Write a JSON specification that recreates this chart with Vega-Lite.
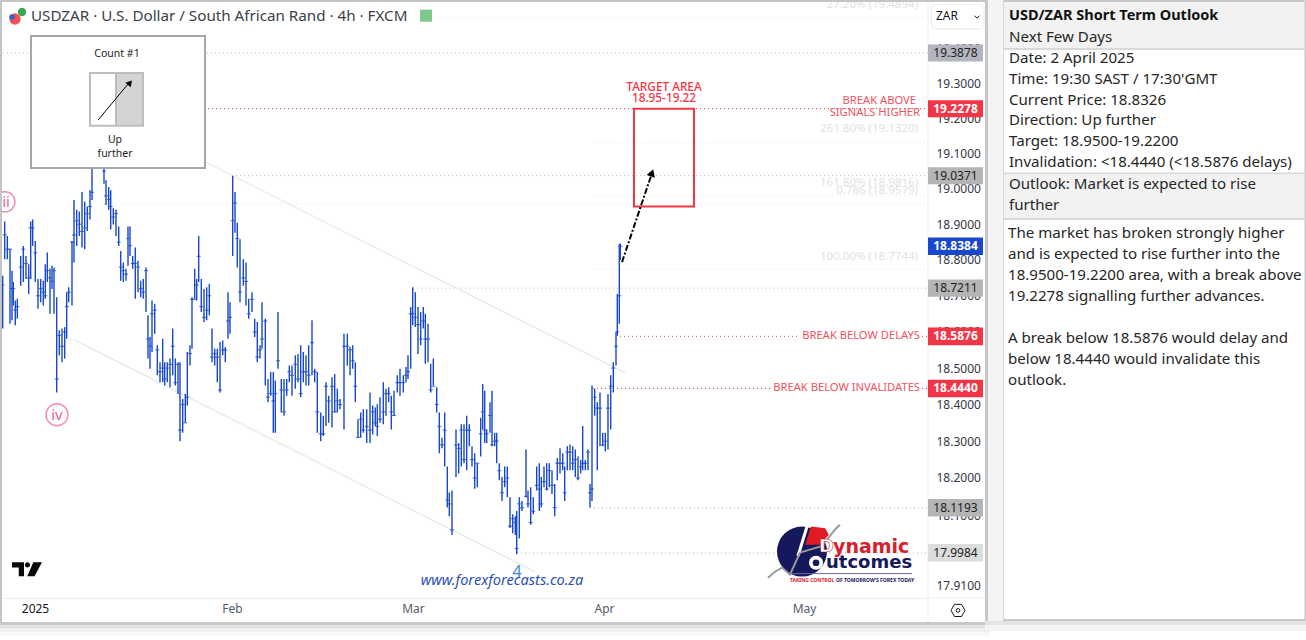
{"$schema":"https://vega.github.io/schema/vega-lite/v6.json","padding":0,"background":"white","spacing":57,"bounds":"flush","config":{"view":{"stroke":null},"text":{"font":"Noto Sans"},"axis":{"labelFont":"Noto Sans"}},
"datasets":{
"bars":[
{"b":2.7,"p":18.756,"p2":18.609,"c":18.73},{"b":4.7,"p":18.908,"p2":18.802,"c":18.87},{"b":7.3,"p":18.867,"p2":18.802,"c":18.83},{"b":10,"p":18.83,"p2":18.622,"c":18.83},{"b":12,"p":18.77,"p2":18.632,"c":18.72},{"b":13.3,"p":18.738,"p2":18.673,"c":18.72},{"b":15.3,"p":18.687,"p2":18.618,"c":18.66},{"b":17.3,"p":18.692,"p2":18.636,"c":18.67},{"b":20.7,"p":18.811,"p2":18.728,"c":18.78},{"b":23.3,"p":18.839,"p2":18.738,"c":18.83},{"b":26,"p":18.811,"p2":18.747,"c":18.79},{"b":28.7,"p":18.788,"p2":18.705,"c":18.75},{"b":30.7,"p":18.908,"p2":18.747,"c":18.89},{"b":32.7,"p":18.913,"p2":18.839,"c":18.89},{"b":35.3,"p":18.853,"p2":18.738,"c":18.82},{"b":38,"p":18.747,"p2":18.664,"c":18.70},{"b":40.7,"p":18.747,"p2":18.682,"c":18.72},{"b":43.3,"p":18.742,"p2":18.673,"c":18.71},{"b":45.3,"p":18.788,"p2":18.692,"c":18.70},{"b":47.3,"p":18.821,"p2":18.738,"c":18.77},{"b":50,"p":18.775,"p2":18.65,"c":18.75},{"b":52,"p":18.784,"p2":18.719,"c":18.74},{"b":54,"p":18.779,"p2":18.65,"c":18.77},{"b":56.7,"p":18.696,"p2":18.433,"c":18.47},{"b":59.3,"p":18.604,"p2":18.535,"c":18.59},{"b":62,"p":18.609,"p2":18.516,"c":18.56},{"b":64.7,"p":18.613,"p2":18.526,"c":18.60},{"b":66.7,"p":18.71,"p2":18.581,"c":18.67},{"b":68.7,"p":18.724,"p2":18.682,"c":18.71},{"b":72,"p":18.853,"p2":18.673,"c":18.85},{"b":74,"p":18.968,"p2":18.793,"c":18.87},{"b":76.7,"p":18.941,"p2":18.839,"c":18.91},{"b":79.3,"p":18.936,"p2":18.867,"c":18.90},{"b":82,"p":18.991,"p2":18.835,"c":18.88},{"b":84.7,"p":18.964,"p2":18.83,"c":18.89},{"b":87.3,"p":18.95,"p2":18.881,"c":18.93},{"b":90,"p":18.996,"p2":18.913,"c":18.95},{"b":92,"p":19.09,"p2":18.968,"c":18.99},{"b":95,"p":19.11,"p2":19.06,"c":19.08},{"b":98,"p":19.13,"p2":19.07,"c":19.1},{"b":104,"p":19.1,"p2":19.014,"c":19.05},{"b":106,"p":19.024,"p2":18.954,"c":18.98},{"b":108.7,"p":19.005,"p2":18.941,"c":18.97},{"b":110.7,"p":18.996,"p2":18.885,"c":18.95},{"b":113.3,"p":18.945,"p2":18.899,"c":18.92},{"b":116,"p":18.941,"p2":18.867,"c":18.93},{"b":118.7,"p":18.894,"p2":18.839,"c":18.85},{"b":120.7,"p":18.825,"p2":18.742,"c":18.78},{"b":123.3,"p":18.793,"p2":18.738,"c":18.77},{"b":126,"p":18.775,"p2":18.742,"c":18.76},{"b":128,"p":18.894,"p2":18.784,"c":18.86},{"b":130,"p":18.894,"p2":18.811,"c":18.84},{"b":132.7,"p":18.811,"p2":18.775,"c":18.79},{"b":135.3,"p":18.835,"p2":18.692,"c":18.79},{"b":138,"p":18.798,"p2":18.71,"c":18.78},{"b":140.7,"p":18.742,"p2":18.696,"c":18.72},{"b":143.3,"p":18.747,"p2":18.692,"c":18.71},{"b":146,"p":18.779,"p2":18.655,"c":18.77},{"b":148,"p":18.646,"p2":18.526,"c":18.58},{"b":150,"p":18.586,"p2":18.498,"c":18.56},{"b":152,"p":18.687,"p2":18.544,"c":18.65},{"b":154.7,"p":18.678,"p2":18.595,"c":18.66},{"b":157.3,"p":18.563,"p2":18.48,"c":18.55},{"b":160,"p":18.516,"p2":18.461,"c":18.49},{"b":162.7,"p":18.581,"p2":18.461,"c":18.50},{"b":164.7,"p":18.516,"p2":18.452,"c":18.47},{"b":167.3,"p":18.516,"p2":18.461,"c":18.50},{"b":170,"p":18.526,"p2":18.447,"c":18.51},{"b":172.7,"p":18.609,"p2":18.48,"c":18.56},{"b":175.3,"p":18.526,"p2":18.452,"c":18.46},{"b":178,"p":18.516,"p2":18.429,"c":18.51},{"b":180,"p":18.516,"p2":18.3,"c":18.33},{"b":182.7,"p":18.415,"p2":18.323,"c":18.40},{"b":185.3,"p":18.429,"p2":18.351,"c":18.35},{"b":187.3,"p":18.544,"p2":18.397,"c":18.42},{"b":190,"p":18.563,"p2":18.507,"c":18.54},{"b":192,"p":18.696,"p2":18.553,"c":18.69},{"b":194.7,"p":18.775,"p2":18.692,"c":18.69},{"b":196.7,"p":18.747,"p2":18.687,"c":18.73},{"b":198.7,"p":18.867,"p2":18.738,"c":18.81},{"b":201.3,"p":18.747,"p2":18.655,"c":18.67},{"b":204,"p":18.719,"p2":18.627,"c":18.64},{"b":206.7,"p":18.724,"p2":18.632,"c":18.66},{"b":209.3,"p":18.733,"p2":18.646,"c":18.70},{"b":212,"p":18.609,"p2":18.516,"c":18.53},{"b":214.7,"p":18.553,"p2":18.507,"c":18.54},{"b":217.3,"p":18.553,"p2":18.461,"c":18.53},{"b":220,"p":18.572,"p2":18.433,"c":18.44},{"b":222.7,"p":18.576,"p2":18.535,"c":18.55},{"b":225.3,"p":18.558,"p2":18.516,"c":18.55},{"b":228,"p":18.71,"p2":18.581,"c":18.63},{"b":230,"p":18.682,"p2":18.595,"c":18.64},{"b":232.7,"p":19.037,"p2":18.811,"c":18.91},{"b":235,"p":18.991,"p2":18.876,"c":18.96},{"b":237.3,"p":18.904,"p2":18.779,"c":18.86},{"b":240,"p":18.858,"p2":18.682,"c":18.71},{"b":243.3,"p":18.802,"p2":18.728,"c":18.75},{"b":246,"p":18.793,"p2":18.673,"c":18.74},{"b":248.7,"p":18.692,"p2":18.636,"c":18.65},{"b":252,"p":18.71,"p2":18.655,"c":18.69},{"b":254.7,"p":18.636,"p2":18.586,"c":18.60},{"b":257.3,"p":18.627,"p2":18.516,"c":18.53},{"b":260,"p":18.563,"p2":18.526,"c":18.55},{"b":262,"p":18.682,"p2":18.553,"c":18.58},{"b":265.3,"p":18.636,"p2":18.452,"c":18.63},{"b":268,"p":18.47,"p2":18.406,"c":18.42},{"b":270.7,"p":18.489,"p2":18.424,"c":18.43},{"b":273.3,"p":18.489,"p2":18.323,"c":18.41},{"b":275.3,"p":18.466,"p2":18.323,"c":18.43},{"b":278,"p":18.655,"p2":18.498,"c":18.52},{"b":281.3,"p":18.47,"p2":18.378,"c":18.44},{"b":284,"p":18.47,"p2":18.369,"c":18.38},{"b":286.7,"p":18.47,"p2":18.424,"c":18.44},{"b":289.3,"p":18.507,"p2":18.461,"c":18.49},{"b":292,"p":18.507,"p2":18.424,"c":18.48},{"b":295.3,"p":18.535,"p2":18.443,"c":18.51},{"b":298,"p":18.539,"p2":18.461,"c":18.47},{"b":300.7,"p":18.563,"p2":18.42,"c":18.43},{"b":303.3,"p":18.544,"p2":18.461,"c":18.49},{"b":306,"p":18.535,"p2":18.452,"c":18.49},{"b":308.7,"p":18.563,"p2":18.452,"c":18.48},{"b":312,"p":18.632,"p2":18.48,"c":18.57},{"b":314.7,"p":18.498,"p2":18.461,"c":18.49},{"b":317.3,"p":18.489,"p2":18.323,"c":18.38},
{"b":320.7,"p":18.378,"p2":18.3,"c":18.32},{"b":323.3,"p":18.369,"p2":18.314,"c":18.32},{"b":326,"p":18.461,"p2":18.341,"c":18.45},{"b":328.7,"p":18.424,"p2":18.35,"c":18.41},{"b":332,"p":18.475,"p2":18.337,"c":18.45},{"b":334.7,"p":18.484,"p2":18.378,"c":18.38},{"b":337.3,"p":18.443,"p2":18.378,"c":18.41},{"b":340,"p":18.415,"p2":18.387,"c":18.40},{"b":344,"p":18.595,"p2":18.332,"c":18.56},{"b":347.3,"p":18.595,"p2":18.507,"c":18.56},{"b":350,"p":18.558,"p2":18.48,"c":18.55},{"b":352.7,"p":18.563,"p2":18.498,"c":18.52},{"b":355.3,"p":18.516,"p2":18.406,"c":18.45},{"b":358,"p":18.36,"p2":18.309,"c":18.31},{"b":360.7,"p":18.378,"p2":18.309,"c":18.36},{"b":363.3,"p":18.387,"p2":18.323,"c":18.33},{"b":366.7,"p":18.387,"p2":18.295,"c":18.34},{"b":370,"p":18.433,"p2":18.295,"c":18.33},{"b":372.7,"p":18.397,"p2":18.318,"c":18.38},{"b":375.3,"p":18.392,"p2":18.341,"c":18.35},{"b":377.3,"p":18.401,"p2":18.314,"c":18.34},{"b":380,"p":18.42,"p2":18.35,"c":18.36},{"b":383.3,"p":18.461,"p2":18.346,"c":18.38},{"b":386,"p":18.443,"p2":18.369,"c":18.43},{"b":388.7,"p":18.447,"p2":18.406,"c":18.43},{"b":391.3,"p":18.424,"p2":18.332,"c":18.38},{"b":394,"p":18.438,"p2":18.369,"c":18.37},{"b":397.3,"p":18.48,"p2":18.433,"c":18.46},{"b":400,"p":18.498,"p2":18.424,"c":18.46},{"b":403.3,"p":18.48,"p2":18.433,"c":18.46},{"b":406,"p":18.503,"p2":18.461,"c":18.48},{"b":408,"p":18.535,"p2":18.47,"c":18.49},{"b":410.7,"p":18.669,"p2":18.498,"c":18.65},{"b":412.7,"p":18.724,"p2":18.618,"c":18.65},{"b":415.3,"p":18.71,"p2":18.613,"c":18.64},{"b":418,"p":18.669,"p2":18.539,"c":18.62},{"b":420.7,"p":18.655,"p2":18.563,"c":18.58},{"b":423.3,"p":18.669,"p2":18.609,"c":18.63},{"b":425.3,"p":18.65,"p2":18.512,"c":18.58},{"b":428,"p":18.622,"p2":18.516,"c":18.58},{"b":430.7,"p":18.512,"p2":18.433,"c":18.44},{"b":433.3,"p":18.526,"p2":18.452,"c":18.45},{"b":436.7,"p":18.447,"p2":18.378,"c":18.40},{"b":439.3,"p":18.378,"p2":18.267,"c":18.34},{"b":442,"p":18.309,"p2":18.281,"c":18.29},{"b":444.7,"p":18.378,"p2":18.231,"c":18.33},{"b":447.3,"p":18.231,"p2":18.12,"c":18.14},{"b":449.3,"p":18.161,"p2":18.097,"c":18.13},{"b":452,"p":18.166,"p2":18.046,"c":18.06},{"b":456,"p":18.332,"p2":18.203,"c":18.29},{"b":458.7,"p":18.295,"p2":18.212,"c":18.28},{"b":461.3,"p":18.346,"p2":18.231,"c":18.33},{"b":464,"p":18.346,"p2":18.24,"c":18.25},{"b":466.7,"p":18.369,"p2":18.221,"c":18.33},{"b":469.3,"p":18.346,"p2":18.286,"c":18.33},{"b":472,"p":18.286,"p2":18.231,"c":18.25},{"b":474.7,"p":18.267,"p2":18.171,"c":18.20},{"b":477.3,"p":18.24,"p2":18.175,"c":18.24},{"b":480.7,"p":18.364,"p2":18.258,"c":18.32},{"b":482.7,"p":18.456,"p2":18.332,"c":18.38},{"b":484.7,"p":18.438,"p2":18.295,"c":18.33},{"b":486.7,"p":18.332,"p2":18.295,"c":18.32},{"b":490,"p":18.406,"p2":18.323,"c":18.37},{"b":492,"p":18.438,"p2":18.286,"c":18.29},{"b":494.7,"p":18.323,"p2":18.286,"c":18.30},{"b":496.7,"p":18.323,"p2":18.24,"c":18.30},{"b":499.3,"p":18.24,"p2":18.194,"c":18.22},{"b":502,"p":18.203,"p2":18.138,"c":18.16},{"b":504.7,"p":18.231,"p2":18.175,"c":18.19},{"b":507.3,"p":18.231,"p2":18.148,"c":18.20},{"b":510,"p":18.148,"p2":18.065,"c":18.07},{"b":512.7,"p":18.102,"p2":18.051,"c":18.09},{"b":515.3,"p":18.097,"p2":18.046,"c":18.08},{"b":516.7,"p":18.111,"p2":17.995,"c":18.01},{"b":519.3,"p":18.148,"p2":18.037,"c":18.13},{"b":522,"p":18.138,"p2":18.111,"c":18.12},{"b":526,"p":18.277,"p2":18.148,"c":18.15},{"b":528,"p":18.166,"p2":18.12,"c":18.13},{"b":530.7,"p":18.175,"p2":18.074,"c":18.08},{"b":533.3,"p":18.148,"p2":18.102,"c":18.11},{"b":536.7,"p":18.231,"p2":18.166,"c":18.18},{"b":539.3,"p":18.24,"p2":18.111,"c":18.17},{"b":541.3,"p":18.203,"p2":18.12,"c":18.13},{"b":544,"p":18.231,"p2":18.175,"c":18.19},{"b":546.7,"p":18.24,"p2":18.166,"c":18.17},{"b":549.3,"p":18.24,"p2":18.175,"c":18.22},{"b":552,"p":18.221,"p2":18.157,"c":18.18},{"b":554.7,"p":18.184,"p2":18.097,"c":18.12},{"b":557.3,"p":18.254,"p2":18.194,"c":18.24},{"b":560,"p":18.281,"p2":18.212,"c":18.24},{"b":562.7,"p":18.267,"p2":18.221,"c":18.24},{"b":564.7,"p":18.231,"p2":18.138,"c":18.16},{"b":567.3,"p":18.286,"p2":18.221,"c":18.27},{"b":570,"p":18.291,"p2":18.221,"c":18.27},{"b":572.7,"p":18.286,"p2":18.221,"c":18.24},{"b":575.3,"p":18.277,"p2":18.203,"c":18.25},{"b":578,"p":18.258,"p2":18.194,"c":18.20},{"b":580.7,"p":18.249,"p2":18.212,"c":18.23},{"b":582.7,"p":18.341,"p2":18.221,"c":18.24},{"b":585.3,"p":18.249,"p2":18.221,"c":18.24},{"b":588,"p":18.277,"p2":18.221,"c":18.27},{"b":590,"p":18.184,"p2":18.12,"c":18.16},{"b":592,"p":18.452,"p2":18.138,"c":18.17},{"b":594.7,"p":18.443,"p2":18.369,"c":18.42},{"b":597.3,"p":18.406,"p2":18.221,"c":18.39},{"b":600,"p":18.433,"p2":18.286,"c":18.39},{"b":602.7,"p":18.323,"p2":18.286,"c":18.29},{"b":605.3,"p":18.323,"p2":18.272,"c":18.30},{"b":608,"p":18.429,"p2":18.277,"c":18.39},{"b":610.7,"p":18.48,"p2":18.332,"c":18.45},{"b":613.3,"p":18.516,"p2":18.433,"c":18.50},{"b":616,"p":18.599,"p2":18.507,"c":18.56},{"b":617.3,"p":18.705,"p2":18.589,"c":18.60},{"b":619.3,"p":18.845,"p2":18.622,"c":18.70},{"b":620.3,"p":18.845,"p2":18.80,"c":18.838}
],
"levels":[{"b":3,"b2":928,"p":19.3878},{"b":232,"b2":928,"p":19.0371},{"b":413,"b2":928,"p":18.7211},{"b":590,"b2":928,"p":18.1193},{"b":517,"b2":928,"p":17.9984}],
"redLevels":[{"b":100,"b2":928,"p":19.2278},{"b":620,"b2":800,"p":18.5876},{"b":922,"b2":928,"p":18.5876},{"b":593,"b2":772,"p":18.444},{"b":922,"b2":928,"p":18.444}],
"fibs":[{"b":430,"b2":928,"p":19.4894},{"b":592,"b2":928,"p":19.132},{"b":592,"b2":928,"p":18.9816},{"b":100,"b2":928,"p":18.9579},{"b":592,"b2":928,"p":18.7744}],
"fibText":[{"b":918,"p":19.527,"t":"27.20% (19.4894)"},{"b":918,"p":19.17,"t":"261.80% (19.1320)"},{"b":918,"p":19.016,"t":"161.80% (18.9816)"},{"b":918,"p":18.994,"t":"0.786 (18.9579)"},{"b":918,"p":18.808,"t":"100.00% (18.7744)"}],
"channels":[{"b":205,"b2":625,"p":19.076,"p2":18.487},{"b":74,"b2":535,"p":18.578,"p2":17.948}],
"chips":[{"b":928,"b2":983,"p":19.412,"p2":19.363,"kind":"pivot","t":"19.3878","m":19.3878},{"b":928,"b2":983,"p":19.252,"p2":19.203,"kind":"alert","t":"19.2278","m":19.2278},{"b":928,"b2":983,"p":19.061,"p2":19.013,"kind":"level","t":"19.0371","m":19.0371},{"b":928,"b2":983,"p":18.863,"p2":18.814,"kind":"last","t":"18.8384","m":18.8384},{"b":928,"b2":983,"p":18.745,"p2":18.697,"kind":"level","t":"18.7211","m":18.7211},{"b":928,"b2":983,"p":18.612,"p2":18.563,"kind":"alert","t":"18.5876","m":18.5876},{"b":928,"b2":983,"p":18.468,"p2":18.42,"kind":"alert","t":"18.4440","m":18.444},{"b":928,"b2":983,"p":18.143,"p2":18.096,"kind":"level","t":"18.1193","m":18.1193},{"b":928,"b2":983,"p":18.022,"p2":17.975,"kind":"weak","t":"17.9984","m":17.9984}],
"frame":[{"b":0,"b2":2,"p":19.541,"p2":17.814,"part":"edge"},{"b":0,"b2":985,"p":19.541,"p2":19.535,"part":"edge"},{"b":0,"b2":990,"p":17.814,"p2":17.806,"part":"s1"},{"b":0,"b2":990,"p":17.806,"p2":17.798,"part":"s2"},{"b":0,"b2":990,"p":17.798,"p2":17.788,"part":"s3"},{"b":0,"b2":990,"p":17.788,"p2":17.777,"part":"s4"}],
"seps":[{"b":928,"b2":928,"p":19.53,"p2":17.814},{"b":928,"b2":985,"p":17.878,"p2":17.878}]
},
"hconcat":[
{"width":928,"height":598,
"encoding":{"x":{"field":"b","type":"quantitative","scale":{"domain":[0,928],"nice":false,"zero":false},"title":null,"axis":{"orient":"bottom","values":[35,232,413,604,804],"labelExpr":"datum.value==35?'2025':datum.value==232?'Feb':datum.value==413?'Mar':datum.value==604?'Apr':'May'","labelColor":{"condition":{"test":"datum.value==35","value":"#131722"},"value":"#555b6a"},"labelFontSize":12,"labelPadding":5,"ticks":false,"grid":false,"domainColor":"#eceef2","labelOverlap":false,"labelBound":false,"labelFlush":false}},
"y":{"field":"p","type":"quantitative","scale":{"type":"log","domain":[17.878,19.541],"nice":false,"zero":false},"title":null,"axis":{"orient":"right","values":[19.4,19.3,19.2,19.1,19.0,18.9,18.8,18.7,18.6,18.5,18.4,18.3,18.2,18.1,18.0,17.91],"format":".4f","labelColor":"#333844","labelFontSize":12,"labelPadding":8,"ticks":false,"domain":false,"grid":false,"labelOverlap":false,"labelBound":false,"labelFlush":false}}},
"layer":[
{"data":{"name":"seps"},"mark":{"type":"rule","color":"#eceef2","strokeWidth":1},"encoding":{"x2":{"field":"b2"},"y2":{"field":"p2"}}},
{"data":{"name":"fibs"},"mark":{"type":"rule","color":"#e4e5e9","strokeWidth":1,"strokeDash":[1,3]},"encoding":{"x2":{"field":"b2"}}},
{"data":{"name":"levels"},"mark":{"type":"rule","color":"#b5b7bd","strokeWidth":1,"strokeDash":[1,3]},"encoding":{"x2":{"field":"b2"}}},
{"data":{"name":"redLevels"},"mark":{"type":"rule","color":"#f23645","strokeWidth":1,"strokeDash":[1,3]},"encoding":{"x2":{"field":"b2"}}},
{"data":{"name":"channels"},"mark":{"type":"rule","color":"#ebebeb","strokeWidth":1.5},"encoding":{"x2":{"field":"b2"},"y2":{"field":"p2"}}},
{"data":{"name":"fibText"},"mark":{"type":"text","align":"right","baseline":"middle","fontSize":11.5,"color":"#dfe1e6","clip":true},"encoding":{"text":{"field":"t"}}},
{"data":{"name":"bars"},"mark":{"type":"rule","color":"#1848cc","strokeWidth":1.4},"encoding":{"y2":{"field":"p2"}}},
{"data":{"name":"bars"},"mark":{"type":"tick","orient":"horizontal","color":"#1848cc","size":4,"thickness":1.2},"encoding":{"y":{"field":"c","type":"quantitative","scale":{"type":"log","domain":[17.878,19.541],"nice":false,"zero":false}}}},
{"data":{"values":[{"b":634,"b2":694,"p":19.2278,"p2":18.95}]},"mark":{"type":"rect","fill":"#ffffff","fillOpacity":0,"stroke":"#f23645","strokeWidth":2},"encoding":{"x2":{"field":"b2"},"y2":{"field":"p2"}}},
{"data":{"values":[{"b":622,"b2":651,"p":18.794,"p2":19.036}]},"mark":{"type":"rule","color":"#000000","strokeWidth":2,"strokeDash":[6,2,2,2]},"encoding":{"x2":{"field":"b2"},"y2":{"field":"p2"}}},
{"data":{"values":[{"b":652,"p":19.045}]},"mark":{"type":"point","shape":"triangle-up","filled":true,"color":"#000000","size":75,"angle":19,"opacity":1}},
{"data":{"values":[{"b":664,"p":19.29,"t":"TARGET AREA"},{"b":664,"p":19.258,"t":"18.95-19.22"}]},"mark":{"type":"text","align":"center","baseline":"middle","fontSize":11.8,"color":"#f23645","fontWeight":500},"encoding":{"text":{"field":"t"}}},
{"data":{"values":[{"b":916,"p":19.25,"t":"BREAK ABOVE"},{"b":920,"p":19.215,"t":"SIGNALS HIGHER"},{"b":920,"p":18.5876,"t":"BREAK BELOW DELAYS"},{"b":920,"p":18.444,"t":"BREAK BELOW INVALIDATES"}]},"mark":{"type":"text","align":"right","baseline":"middle","fontSize":11.2,"color":"#f0525e"},"encoding":{"text":{"field":"t"}}},
{"data":{"values":[{"b":57,"p":18.372,"t":"iv"}]},"mark":{"type":"point","shape":"circle","filled":false,"color":"#f48fb1","strokeWidth":1.5,"size":480,"opacity":1}},
{"data":{"values":[{"b":5,"p":18.963,"t":"ii"}]},"mark":{"type":"point","shape":"circle","filled":false,"color":"#f48fb1","strokeWidth":1.5,"size":400,"opacity":1,"clip":true}},
{"data":{"values":[{"b":57,"p":18.372,"t":"iv"},{"b":6,"p":18.963,"t":"ii"}]},"mark":{"type":"text","align":"center","baseline":"middle","fontSize":15,"color":"#f06292"},"encoding":{"text":{"field":"t"}}},
{"data":{"values":[{"b":517,"p":17.948,"t":"4"}]},"mark":{"type":"text","align":"center","baseline":"middle","fontSize":16,"color":"#3f86d6"},"encoding":{"text":{"field":"t"}}},
{"data":{"values":[{"b":502,"p":17.922,"t":"www.forexforecasts.co.za"}]},"mark":{"type":"text","align":"center","baseline":"middle","fontSize":14.6,"fontStyle":"italic","color":"#2b50b5"},"encoding":{"text":{"field":"t"}}},
{"data":{"values":[{"b":27,"p":17.955}]},"mark":{"type":"point","shape":"M-1,-.45L-.2,-.45L-.2,.47L-.55,.47L-.55,-.1L-1,-.1ZM.42,-.45L1,-.45L.5,.47L.02,.47ZM.2,-.28A.17,.17 0 1 1 -.14,-.28A.17,.17 0 1 1 .2,-.28Z","filled":true,"color":"#0a0a0a","size":900,"opacity":1}},
{"data":{"values":[{"b":31,"b2":205,"p":19.437,"p2":19.059}]},"mark":{"type":"rect","fill":"#ffffff","stroke":"#a6a6a6","strokeWidth":2},"encoding":{"x2":{"field":"b2"},"y2":{"field":"p2"}}},
{"data":{"values":[{"b":116,"b2":143,"p":19.33,"p2":19.179}]},"mark":{"type":"rect","fill":"#d4d4d4"},"encoding":{"x2":{"field":"b2"},"y2":{"field":"p2"}}},
{"data":{"values":[{"b":90,"b2":143,"p":19.33,"p2":19.179}]},"mark":{"type":"rect","fill":"#ffffff","fillOpacity":0,"stroke":"#bdbdbd","strokeWidth":2},"encoding":{"x2":{"field":"b2"},"y2":{"field":"p2"}}},
{"data":{"values":[{"b":116,"b2":116,"p":19.33,"p2":19.179}]},"mark":{"type":"rule","color":"#bdbdbd","strokeWidth":2},"encoding":{"x2":{"field":"b2"},"y2":{"field":"p2"}}},
{"data":{"values":[{"b":98,"b2":130,"p":19.195,"p2":19.305}]},"mark":{"type":"rule","color":"#000000","strokeWidth":1},"encoding":{"x2":{"field":"b2"},"y2":{"field":"p2"}}},
{"data":{"values":[{"b":130,"p":19.302}]},"mark":{"type":"point","shape":"triangle-up","filled":true,"color":"#000000","size":50,"angle":40,"opacity":1}},
{"data":{"values":[{"b":117,"p":19.385,"t":"Count #1"},{"b":115,"p":19.139,"t":"Up"},{"b":115,"p":19.099,"t":"further"}]},"mark":{"type":"text","align":"center","baseline":"middle","fontSize":10.5,"color":"#222222"},"encoding":{"text":{"field":"t"}}},
{"data":{"values":[{"b":420,"b2":432,"p":19.513,"p2":19.478}]},"mark":{"type":"rect","fill":"#7cc98a"},"encoding":{"x2":{"field":"b2"},"y2":{"field":"p2"}}},
{"data":{"values":[{"b":22,"p":19.506}]},"mark":{"type":"point","shape":"circle","filled":true,"color":"#3aa655","size":70,"opacity":1}},
{"data":{"values":[{"b":15,"p":19.486}]},"mark":{"type":"point","shape":"circle","filled":true,"color":"#ef5350","size":130,"opacity":1}},
{"data":{"values":[{"b":12,"p":19.492}]},"mark":{"type":"point","shape":"circle","filled":true,"color":"#3a5fcd","size":30,"opacity":1}},
{"data":{"values":[{"b":31,"p":19.495,"t":"USDZAR · U.S. Dollar / South African Rand · 4h · FXCM"}]},"mark":{"type":"text","align":"left","baseline":"middle","fontSize":15.2,"color":"#3a3f4a"},"encoding":{"text":{"field":"t"}}},
{"data":{"values":[{"b":931.5,"b2":984,"p":19.527,"p2":19.457}]},"mark":{"type":"rect","fill":"#ffffff","stroke":"#e6e8ee","strokeWidth":1,"cornerRadius":4},"encoding":{"x2":{"field":"b2"},"y2":{"field":"p2"}}},
{"data":{"values":[{"b":936,"p":19.495,"t":"ZAR"}]},"mark":{"type":"text","align":"left","baseline":"middle","fontSize":12,"color":"#131722"},"encoding":{"text":{"field":"t"}}},
{"data":{"values":[{"b":977,"p":19.492}]},"mark":{"type":"point","shape":"M-1,-.5L0,.5L1,-.5","filled":false,"color":"#131722","strokeWidth":1,"size":25,"opacity":1}},
{"data":{"name":"chips"},"mark":{"type":"rect"},"encoding":{"x2":{"field":"b2"},"y2":{"field":"p2"},"color":{"field":"kind","type":"nominal","legend":null,"scale":{"domain":["pivot","alert","level","last","weak"],"range":["#b2b5be","#f23645","#b5b5b5","#1848cc","#dcdcdc"]}}}},
{"data":{"name":"chips"},"transform":[{"filter":"datum.kind=='alert'||datum.kind=='last'"}],"mark":{"type":"text","align":"center","baseline":"middle","fontSize":12,"fontWeight":"bold","color":"#ffffff"},"encoding":{"x":{"datum":955.5,"type":"quantitative","scale":{"domain":[0,928],"nice":false,"zero":false}},"y":{"field":"m","type":"quantitative","scale":{"type":"log","domain":[17.878,19.541],"nice":false,"zero":false}},"text":{"field":"t"}}},
{"data":{"name":"chips"},"transform":[{"filter":"datum.kind!='alert'&&datum.kind!='last'"}],"mark":{"type":"text","align":"center","baseline":"middle","fontSize":12,"color":"#222222"},"encoding":{"x":{"datum":955.5,"type":"quantitative","scale":{"domain":[0,928],"nice":false,"zero":false}},"y":{"field":"m","type":"quantitative","scale":{"type":"log","domain":[17.878,19.541],"nice":false,"zero":false}},"text":{"field":"t"}}},
{"data":{"values":[{"b":958,"p":17.845}]},"mark":{"type":"point","shape":"M-1,0L-.5,-.87L.5,-.87L1,0L.5,.87L-.5,.87Z","filled":false,"color":"#131722","strokeWidth":1,"size":196,"opacity":1}},
{"data":{"values":[{"b":958,"p":17.845}]},"mark":{"type":"point","shape":"circle","filled":false,"color":"#131722","strokeWidth":1,"size":14,"opacity":1}},
{"data":{"values":[{"b":802,"p":18.002}]},"mark":{"type":"point","shape":"circle","filled":true,"color":"#15185c","size":2500,"opacity":1}},
{"data":{"values":[{"b":802,"p":18.002}]},"mark":{"type":"point","shape":"M.36,-1L.93,-.93L1.07,-.67L.73,-.27L.13,-.27Z","filled":true,"color":"#e01b24","size":2500,"opacity":1}},
{"data":{"values":[{"b":808,"b2":798,"p":18.078,"p2":17.99}]},"mark":{"type":"rule","color":"#ffffff","strokeWidth":3},"encoding":{"x2":{"field":"b2"},"y2":{"field":"p2"}}},
{"data":{"values":[{"b":768,"p":17.932},{"b":775,"p":17.948},{"b":782,"p":17.959},{"b":790,"p":17.94},{"b":800,"p":17.999},{"b":810,"p":18.007},{"b":820,"p":18.015},{"b":827,"p":18.034},{"b":835,"p":18.061},{"b":840,"p":18.074}]},"mark":{"type":"line","color":"#9a9a9a","strokeWidth":2}},
{"data":{"values":[{"b":816,"p":17.972}]},"mark":{"type":"point","shape":"circle","filled":true,"color":"#ffffff","size":200,"opacity":1}},
{"data":{"values":[{"b":816,"p":17.972}]},"mark":{"type":"point","shape":"circle","filled":true,"color":"#15185c","size":45,"opacity":1}},
{"data":{"values":[{"b":819,"p":18.015,"t":"D"}]},"mark":{"type":"text","align":"left","baseline":"middle","fontSize":18,"fontWeight":"bold","font":"DejaVu Sans","color":"#ffffff","stroke":"#a01420","strokeWidth":0.5},"encoding":{"text":{"field":"t"}}},
{"data":{"values":[{"b":833,"p":18.015,"t":"ynamic"}]},"mark":{"type":"text","align":"left","baseline":"middle","fontSize":19,"fontWeight":"bold","font":"DejaVu Sans","color":"#d8202c"},"encoding":{"text":{"field":"t"}}},
{"data":{"values":[{"b":826,"p":17.972,"t":"utcomes"}]},"mark":{"type":"text","align":"left","baseline":"middle","fontSize":18,"fontWeight":"bold","font":"DejaVu Sans","color":"#15185c"},"encoding":{"text":{"field":"t"}}},
{"data":{"values":[{"b":790,"b2":912,"p":17.943,"p2":17.943}]},"mark":{"type":"rule","color":"#6a6aa8","strokeWidth":1},"encoding":{"x2":{"field":"b2"},"y2":{"field":"p2"}}},
{"data":{"values":[{"b":790,"p":17.925,"t":"TAKING CONTROL"}]},"mark":{"type":"text","align":"left","baseline":"middle","fontSize":5,"fontWeight":"bold","color":"#d8202c"},"encoding":{"text":{"field":"t"}}},
{"data":{"values":[{"b":836,"p":17.925,"t":"OF TOMORROW'S FOREX TODAY"}]},"mark":{"type":"text","align":"left","baseline":"middle","fontSize":5,"fontWeight":"bold","color":"#15185c"},"encoding":{"text":{"field":"t"}}},
{"data":{"name":"frame"},"mark":{"type":"rect"},"encoding":{"x2":{"field":"b2"},"y2":{"field":"p2"},"color":{"field":"part","type":"nominal","legend":null,"scale":{"domain":["edge","s1","s2","s3","s4"],"range":["#c4c4c4","#c8c8c8","#e0e0e0","#efefef","#f8f8f8"]}}}}
],"resolve":{"scale":{"color":"independent"}}
},
{"width":321,"height":640,
"encoding":{"x":{"field":"col","type":"quantitative","scale":{"domain":[985,1306],"nice":false,"zero":false},"axis":null},"y":{"field":"row","type":"quantitative","scale":{"domain":[640,0],"nice":false,"zero":false},"axis":null}},
"layer":[
{"data":{"values":[
{"col":985,"col2":988,"row":0,"row2":622,"part":"shadow"},
{"col":988,"col2":1003,"row":0,"row2":622,"part":"gutter"},
{"col":1003,"col2":1304.5,"row":0,"row2":2,"part":"shadow"},
{"col":1004,"col2":1304.5,"row":2,"row2":48,"part":"band"},
{"col":1003,"col2":1304.5,"row":48,"row2":50,"part":"sep"},
{"col":1004,"col2":1304.5,"row":172.5,"row2":174.5,"part":"sep"},
{"col":1004,"col2":1304.5,"row":174.5,"row2":218,"part":"band"},
{"col":1003,"col2":1304.5,"row":218,"row2":220,"part":"sep"},
{"col":1003,"col2":1004,"row":0,"row2":620,"part":"sep"},
{"col":1304.5,"col2":1306,"row":0,"row2":621,"part":"shadow"},
{"col":1003,"col2":1306,"row":619,"row2":621,"part":"shadow"},
{"col":985,"col2":1306,"row":621,"row2":625,"part":"shade"},
{"col":985,"col2":1306,"row":625,"row2":631,"part":"gutter"}
]},"mark":{"type":"rect"},"encoding":{"x2":{"field":"col2"},"y2":{"field":"row2"},"color":{"field":"part","type":"nominal","legend":null,"scale":{"domain":["shadow","gutter","band","sep","shade"],"range":["#c8c8c8","#f4f4f4","#f2f2f2","#d9d9d9","#e4e4e4"]}}}},
{"data":{"values":[{"col":1009,"row":16,"t":"USD/ZAR Short Term Outlook"}]},"mark":{"type":"text","align":"left","baseline":"middle","fontSize":14.5,"fontWeight":"bold","color":"#111111"},"encoding":{"text":{"field":"t"}}},
{"data":{"values":[
{"col":1009,"row":37,"t":"Next Few Days"},{"col":1009,"row":58,"t":"Date: 2 April 2025"},{"col":1009,"row":79,"t":"Time: 19:30 SAST / 17:30'GMT"},{"col":1009,"row":100,"t":"Current Price: 18.8326"},{"col":1009,"row":120,"t":"Direction: Up further"},{"col":1009,"row":141,"t":"Target: 18.9500-19.2200"},{"col":1009,"row":162,"t":"Invalidation: <18.4440 (<18.5876 delays)"},{"col":1009,"row":184,"t":"Outlook: Market is expected to rise"},{"col":1009,"row":205,"t":"further"},
{"col":1008,"row":233,"t":"The market has broken strongly higher"},{"col":1008,"row":254,"t":"and is expected to rise further into the"},{"col":1008,"row":275,"t":"18.9500-19.2200 area, with a break above"},{"col":1008,"row":296,"t":"19.2278 signalling further advances."},{"col":1008,"row":338,"t":"A break below 18.5876 would delay and"},{"col":1008,"row":359,"t":"below 18.4440 would invalidate this"},{"col":1008,"row":380,"t":"outlook."}
]},"mark":{"type":"text","align":"left","baseline":"middle","fontSize":15.1,"color":"#262626"},"encoding":{"text":{"field":"t"}}}
],"resolve":{"scale":{"color":"independent"}}
}
]}
